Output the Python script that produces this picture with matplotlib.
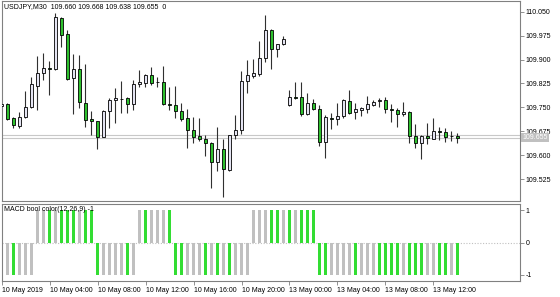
import numpy as np
import matplotlib
matplotlib.use('Agg')
import matplotlib.pyplot as plt
import matplotlib.transforms as mtransforms

plt.rcParams['font.family'] = ['Liberation Sans', 'DejaVu Sans']

# USDJPY M30 candles, 10 May 2019 00:00 .. 13 May 2019 14:00
opens = [109.755, 109.759, 109.715, 109.692, 109.720, 109.752, 109.818, 109.857, 109.872, 109.869,
         110.029, 109.979, 109.841, 109.871, 109.764, 109.712, 109.707, 109.658, 109.738, 109.773,
         109.776, 109.778, 109.759, 109.822, 109.827, 109.850, 109.829, 109.828, 109.759, 109.757,
         109.739, 109.715, 109.679, 109.660, 109.650, 109.639, 109.579, 109.619, 109.553, 109.663,
         109.679, 109.833, 109.848, 109.854, 109.904, 109.993, 109.933, 109.948, 109.756, 109.783,
         109.781, 109.729, 109.762, 109.745, 109.641, 109.715, 109.712, 109.722, 109.770, 109.736,
         109.741, 109.744, 109.757, 109.770, 109.773, 109.744, 109.741, 109.728, 109.734, 109.660,
         109.639, 109.660, 109.651, 109.676, 109.674, 109.660, 109.660]
highs = [109.764, 109.763, 109.720, 109.734, 109.802, 109.844, 109.911, 109.921, 109.896, 110.047,
         110.032, 109.993, 109.916, 109.914, 109.886, 109.738, 109.708, 109.740, 109.778, 109.810,
         109.833, 109.783, 109.836, 109.867, 109.854, 109.877, 109.846, 109.880, 109.815, 109.817,
         109.764, 109.745, 109.720, 109.718, 109.663, 109.642, 109.689, 109.650, 109.664, 109.726,
         109.864, 109.898, 109.901, 109.958, 110.040, 109.995, 109.950, 109.974, 109.804, 109.830,
         109.830, 109.794, 109.775, 109.757, 109.726, 109.731, 109.763, 109.775, 109.804, 109.763,
         109.752, 109.785, 109.773, 109.779, 109.781, 109.760, 109.747, 109.767, 109.738, 109.698,
         109.663, 109.702, 109.715, 109.689, 109.684, 109.677, 109.668]
lows = [109.752, 109.710, 109.686, 109.686, 109.718, 109.747, 109.741, 109.836, 109.789, 109.867,
        109.940, 109.836, 109.728, 109.747, 109.689, 109.663, 109.618, 109.657, 109.684, 109.700,
        109.731, 109.731, 109.741, 109.813, 109.813, 109.819, 109.813, 109.756, 109.741, 109.715,
        109.708, 109.621, 109.637, 109.645, 109.597, 109.496, 109.551, 109.469, 109.551, 109.650,
        109.666, 109.796, 109.841, 109.848, 109.893, 109.870, 109.909, 109.945, 109.755, 109.775,
        109.724, 109.726, 109.741, 109.629, 109.592, 109.681, 109.694, 109.718, 109.729, 109.712,
        109.723, 109.731, 109.754, 109.752, 109.733, 109.703, 109.687, 109.724, 109.639, 109.621,
        109.587, 109.635, 109.650, 109.647, 109.641, 109.645, 109.638]
closes = [109.759, 109.713, 109.694, 109.720, 109.752, 109.822, 109.857, 109.873, 109.869, 110.032,
          109.976, 109.839, 109.871, 109.766, 109.710, 109.706, 109.658, 109.738, 109.773, 109.778,
          109.775, 109.760, 109.822, 109.829, 109.850, 109.825, 109.828, 109.759, 109.758, 109.739,
          109.713, 109.679, 109.658, 109.650, 109.639, 109.579, 109.619, 109.555, 109.663, 109.679,
          109.833, 109.851, 109.857, 109.904, 109.993, 109.933, 109.949, 109.964, 109.783, 109.778,
          109.728, 109.762, 109.744, 109.641, 109.719, 109.712, 109.722, 109.773, 109.733, 109.744,
          109.747, 109.759, 109.767, 109.773, 109.744, 109.741, 109.728, 109.734, 109.660, 109.639,
          109.660, 109.655, 109.676, 109.674, 109.658, 109.659, 109.655]

# MACD bool color: sign and colour flag (1 = green)
macd_sign = [-1] * 6 + [1] * 10 + [-1] * 7 + [1] * 6 + [-1] * 13 + [1] * 11 + [-1] * 24
macd_green = [1, 0, 1, 0, 0, 0,
              0, 0, 1, 0, 1, 1, 1, 0, 1, 1,
              1, 0, 0, 0, 0, 1, 0,
              0, 1, 0, 0, 0, 1,
              1, 1, 0, 0, 0, 1, 0, 1, 0, 1, 0, 0, 0,
              0, 0, 0, 1, 1, 0, 1, 0, 1, 1, 1,
              1, 1, 0, 0, 0, 0, 1, 0, 0, 0, 1, 1, 1, 1, 0, 1, 1, 1, 0, 0, 1, 1, 0, 1]

price_ticks = [109.525, 109.600, 109.675, 109.750, 109.825, 109.900, 109.975, 110.050]
time_labels = ['10 May 2019', '10 May 04:00', '10 May 08:00', '10 May 12:00', '10 May 16:00',
               '10 May 20:00', '13 May 00:00', '13 May 04:00', '13 May 08:00', '13 May 12:00']
bid = 109.655
ask = 109.663

W, H = 560, 297
fig = plt.figure(figsize=(W / 100, H / 100), dpi=100)


def px_axes(x0, y0, x1, y1):
    return fig.add_axes([x0 / W, 1 - y1 / H, (x1 - x0) / W, (y1 - y0) / H])


ax = px_axes(1.7, 1, 520, 201)
ax2 = px_axes(1.7, 204, 520, 281)

frame = '#808080'
for a in (ax, ax2):
    for s in a.spines.values():
        s.set_color(frame)
        s.set_linewidth(0.8)

x = np.arange(len(opens))
o = np.array(opens)
c = np.array(closes)
bull = c >= o
body_lo = np.minimum(o, c)
body_h = np.maximum(np.abs(c - o), 0.0012)
fills = np.where(bull, '#e4e4f2', '#2ec02e')

ax.vlines(x, lows, highs, color='#303030', linewidth=0.8, zorder=2)
ax.bar(x, body_h, bottom=body_lo, width=0.55, color=fills, edgecolor='black',
       linewidth=0.6, zorder=3)

ax.axhline(bid, color='#c8c8c8', linewidth=0.8, zorder=1)
ax.axhline(ask, color='#c8c8c8', linewidth=0.8, zorder=1)

xlim = (0.07, 86.45)
ax.set_xlim(*xlim)
ax.set_ylim(109.456, 110.0836)
ax.yaxis.tick_right()
ax.set_yticks(price_ticks)
ax.set_yticklabels([f'{v:.3f}' for v in price_ticks])
ax.tick_params(axis='y', length=3, width=0.6, color=frame, labelsize=5, pad=1)
ax.tick_params(axis='x', bottom=False, labelbottom=False)

# current bid label on the price scale
trans = mtransforms.blended_transform_factory(ax.transAxes, ax.transData)
ax.text(1.005, bid, f'{bid:.3f}', transform=trans, va='center', ha='left', fontsize=5,
        color='white', zorder=10,
        bbox=dict(boxstyle='square,pad=0.2', fc='#c0c0c0', ec='none'))

ax.text(0.005, 0.99, f'USDJPY,M30  {opens[-1]:.3f} {highs[-1]:.3f} {lows[-1]:.3f} {closes[-1]:.3f}  0',
        transform=ax.transAxes, va='top', ha='left', fontsize=5)

# indicator window
bar_cols = ['#33dd33' if g else '#c0c0c0' for g in macd_green]
ax2.axhline(0, color='#c0c0c0', linewidth=0.8, linestyle=(0, (1, 1.5)), zorder=1)
ax2.bar(x, macd_sign, width=0.44, color=bar_cols, zorder=2)
ax2.set_xlim(*xlim)
ax2.set_ylim(-1.2, 1.2)
ax2.yaxis.tick_right()
ax2.set_yticks([-1, 0, 1])
ax2.set_yticklabels(['-1', '0', '1'])
ax2.tick_params(axis='y', length=3, width=0.6, color=frame, labelsize=5, pad=1)
ax2.text(0.005, 0.97, 'MACD bool color(12,26,9) -1', transform=ax2.transAxes,
         va='top', ha='left', fontsize=5)

ax2.set_xticks(np.arange(0, len(opens), 8)[:len(time_labels)])
ax2.set_xticklabels(time_labels, ha='left')
ax2.tick_params(axis='x', length=3, width=0.6, color=frame, labelsize=5, pad=1.5)

fig.savefig('out.png', dpi=100)
